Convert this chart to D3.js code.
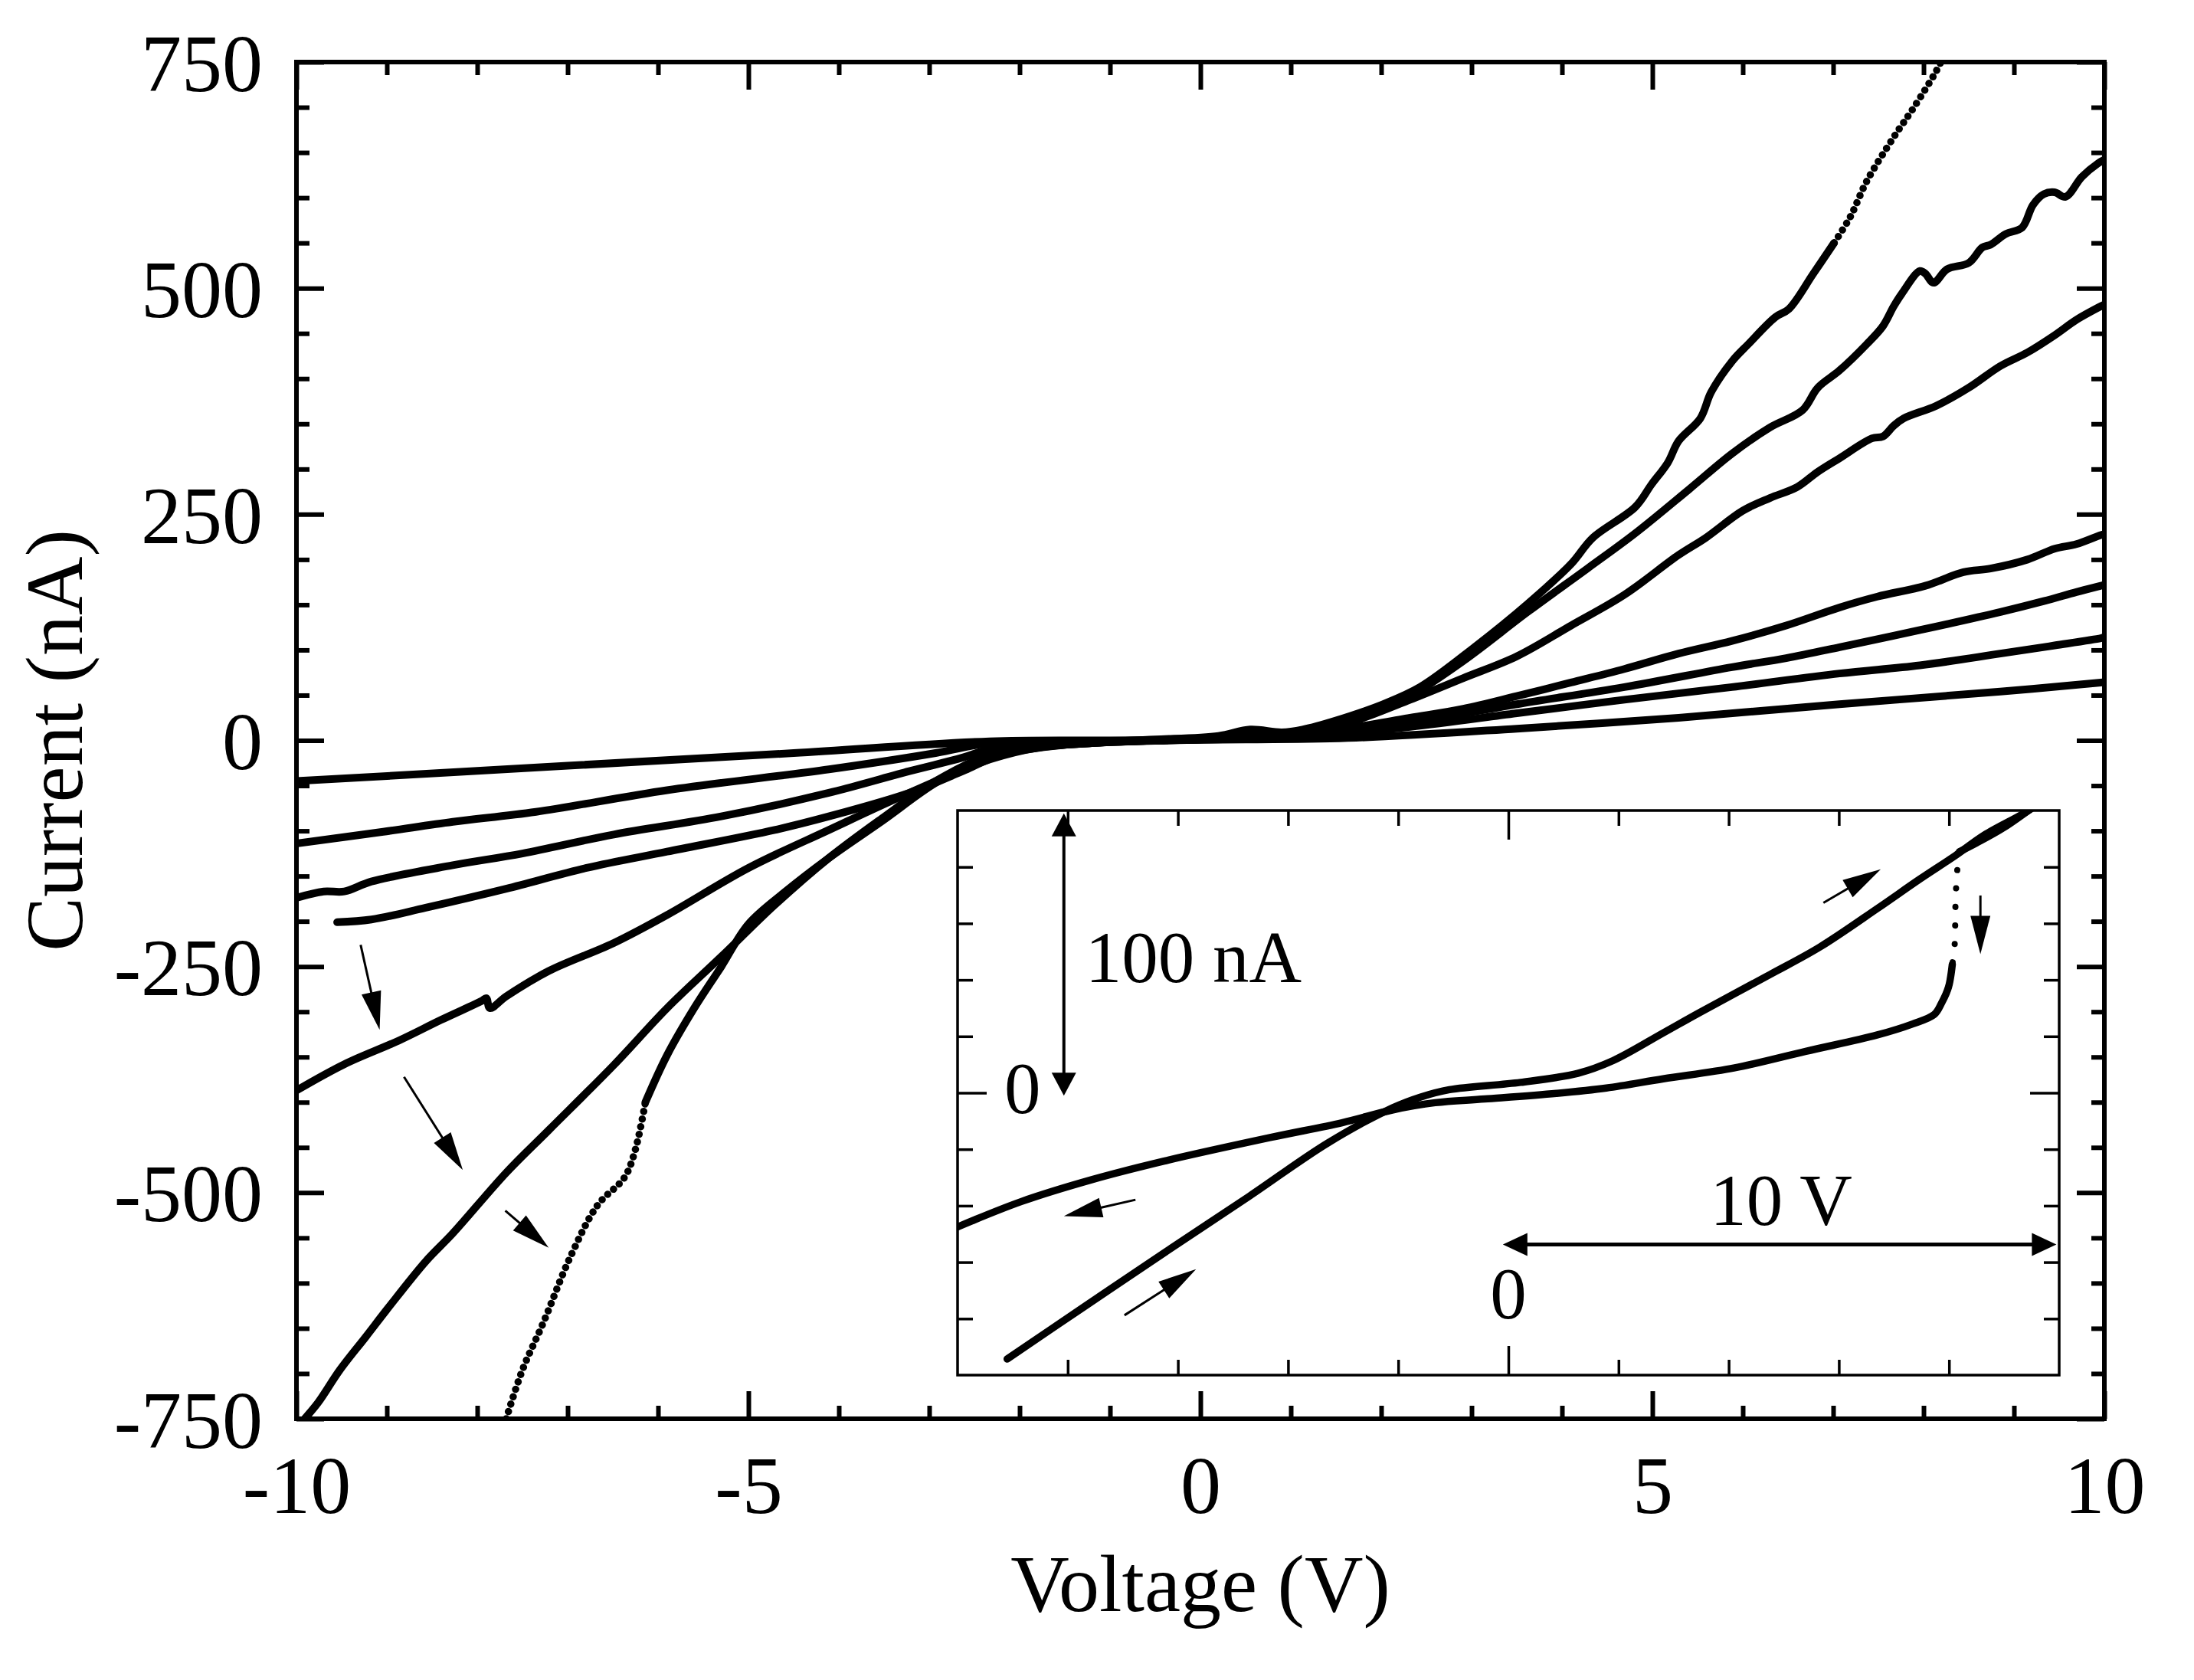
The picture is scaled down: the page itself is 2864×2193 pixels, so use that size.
<!DOCTYPE html>
<html>
<head>
<meta charset="utf-8">
<script src="https://cdn.jsdelivr.net/npm/d3@7"></script>
<style>
  html, body { margin: 0; padding: 0; background: #fff; }
  svg text { font-family: "Liberation Serif", "Times New Roman", serif; fill: #000; }
</style>
</head>
<body>
<div id="chart"></div>
<script>
// ---- data (V, nA) ----
const sweepA = [[-6.14,-400],[-5.90,-348],[-5.60,-296],[-5.30,-250],[-5.00,-203],[-4.59,-167],[-4.11,-130],
  [-3.52,-89],[-2.93,-47],[-2.33,-16],[-1.8,-6],[-1.2,-2],[-0.5,1],[0.2,5],[0.55,12],[0.9,9],[1.13,12],
  [1.5,22],[2.02,40],[2.43,59],[3.03,103],[3.62,151],[4.10,195],[4.34,224],[4.81,258],[4.99,283],[5.17,307],
  [5.29,331],[5.53,356],[5.65,385],[5.88,419],[6.06,438],[6.36,468],[6.51,477],[6.78,516],[7.01,550]];
const sweepALowSparse = [[-7.68,-750],[-7.50,-696],[-7.27,-644],[-6.97,-571],[-6.67,-514],[-6.37,-483],[-6.25,-452],[-6.14,-400]];
const sweepAHighSparse = [[7.01,550],[7.19,579],[7.37,618],[7.67,667],[7.90,701],[8.14,740],[8.2,752]];
const sweepB = [[-9.91,-750],[-9.76,-732],[-9.52,-696],[-9.23,-659],[-8.99,-628],[-8.57,-576],[-8.27,-545],
  [-7.68,-478],[-7.21,-431],[-6.49,-359],[-5.90,-296],[-5.30,-239],[-4.71,-182],[-4.11,-130],[-3.52,-86],
  [-2.93,-45],[-2.33,-16],[-1.8,-7],[-1.2,-3],[-0.5,0],[0.2,4],[0.55,11],[0.9,8],[1.13,11],[1.5,20],[2.02,35],
  [2.32,49],[2.91,88],[3.62,142],[4.28,190],[4.81,229],[5.41,278],[5.88,317],[6.30,346],[6.66,365],[6.83,390],
  [7.07,409],[7.37,438],[7.55,458],[7.67,480],[7.76,494],[7.96,519],[8.02,516],[8.11,506],[8.26,521],[8.50,528],
  [8.65,545],[8.74,548],[8.91,560],[9.09,567],[9.21,592],[9.33,604],[9.45,606],[9.57,601],[9.75,623],[9.93,638],[10,642]];
const sweepC = [[-10,-387],[-9.47,-358],[-8.87,-332],[-8.40,-309],[-7.95,-288],[-7.90,-285],[-7.86,-296],
  [-7.68,-283],[-7.21,-255],[-6.49,-224],[-5.90,-193],[-5.00,-141],[-4.11,-99],[-3.22,-58],[-2.33,-21],
  [-1.8,-8],[-1.2,-3],[-0.5,0],[0.2,3],[0.6,8],[1.0,7],[1.4,14],[1.72,22],[2.32,45],[2.91,69],[3.50,93],
  [4.10,127],[4.69,161],[5.29,205],[5.59,224],[6.00,254],[6.30,268],[6.60,280],[6.83,297],[7.07,312],
  [7.43,334],[7.55,336],[7.67,348],[7.78,356],[8.14,370],[8.50,390],[8.85,414],[9.15,429],[9.45,448],
  [9.69,465],[9.96,480],[10,482]];
const sweepD = [[-9.55,-201],[-9.17,-198],[-8.57,-185],[-7.68,-164],[-6.79,-141],[-5.90,-123],[-4.71,-99],
  [-4.11,-84],[-3.22,-58],[-2.63,-34],[-2.21,-16],[-1.6,-6],[-1,-2],[0,1],[0.6,5],[1.2,7],[2.32,25],[2.91,35],
  [3.50,49],[4.10,64],[4.69,79],[5.29,96],[5.88,110],[6.48,127],[7.07,147],[7.49,159],[8.02,171],[8.44,186],
  [8.74,190],[9.15,200],[9.45,212],[9.69,217],[9.96,227],[10,228]];
const sweepE = [[-10,-174],[-9.70,-167],[-9.47,-167],[-9.17,-156],[-8.27,-138],[-7.50,-125],[-6.49,-104],
  [-5.30,-84],[-4.11,-58],[-3.22,-34],[-2.63,-19],[-2.21,-6],[-1.5,-2],[-0.5,0],[0.5,3],[1.2,6],[2.32,20],
  [3.50,40],[4.69,59],[5.88,81],[6.48,91],[7.07,103],[7.96,122],[8.85,142],[9.33,154],[9.69,164],[9.96,171],[10,172]];
const sweepF = [[-10,-114],[-9.04,-101],[-8.27,-90],[-7.35,-79],[-5.90,-55],[-4.11,-32],[-2.93,-14],[-2.33,-3],
  [-1.5,-1],[-0.5,0],[0.5,2],[1.2,5],[2.32,15],[3.50,30],[4.69,45],[5.88,59],[7.07,74],[7.96,83],[8.85,96],
  [9.45,105],[9.96,113],[10,114]];
const sweepG = [[-10,-45],[-7,-28],[-4.5,-14],[-2.33,-1],[-1,0],[0.5,1],[1.72,3],[3.50,13],[5.29,25],
  [7.07,40],[8.85,54],[9.96,64],[10,64.5]];

// inset loop (V, nA)
const insetUp = [[-9.10,-94.3],[-7.68,-75.5],[-6.25,-56.7],[-4.70,-36.6],[-3.28,-17.8],[-2.11,-5.4],
  [-1.59,-1.5],[-1.07,1.1],[0.22,3.7],[1.26,6.9],[1.90,11.4],[2.81,21.2],[3.46,28.3],[4.75,41.9],[5.66,51.7],
  [6.70,65.3],[7.47,75.7],[8.12,84.1],[8.64,91.3],[9.42,99.7],[9.65,103]];
const insetDownTop = [[9.65,103],[9.0,94],[8.5,88.5],[8.19,85.4]];
const insetDrop = [[8.19,85.4],[8.15,78.9],[8.12,68.6],[8.10,51.7],[8.06,45.5]];
const insetDown = [[8.06,45.5],[7.99,37.4],[7.86,31.6],[7.73,27.7],[7.34,24.4],[6.70,20.5],[5.40,14.7],
  [4.11,8.85],[2.81,4.95],[1.78,1.7],[0.87,-0.2],[-0.43,-2.2],[-1.33,-3.5],[-2.11,-6.1],[-3.02,-10.6],
  [-4.31,-15.8],[-6.25,-24.2],[-7.55,-30.7],[-8.84,-38.5],[-10.01,-47.6]];

// sweep direction arrows [from, to]
const mainArrows = [[[-9.29,-226],[-9.08,-320]],[[-8.81,-372],[-8.16,-475]],[[-7.69,-520],[-7.21,-561]]];
const insetArrows = [[[5.72,67.3],[6.76,79.2]],[[8.57,69.9],[8.57,49.1]],[[-6.77,-37.9],[-8.07,-43.7]],[[-6.97,-78.8],[-5.67,-62.5]]];
const currentBar = [[-8.07,-1],[-8.07,99]];
const voltageBar = [[-0.1,-53.7],[9.95,-53.7]];

const xMajorTicks = [-10, -5, 0, 5, 10];
const yMajorTicks = [-750, -500, -250, 0, 250, 500, 750];
const insetXTicks = [-8, -6, -4, -2, 2, 4, 6, 8];
const insetYTicks = [-80, -60, -40, -20, 20, 40, 60, 80];

// ---- layout ----
const W = 2864, H = 2193;
const margin = { top: 81, right: 117, bottom: 341, left: 387 };
const w = W - margin.left - margin.right;
const h = H - margin.top - margin.bottom;
const FS = 106;

const svg = d3.select("#chart").append("svg")
  .attr("width", W).attr("height", H).attr("viewBox", `0 0 ${W} ${H}`);
svg.append("rect").attr("width", W).attr("height", H).attr("fill", "#fff");
const defs = svg.append("defs");
const g = svg.append("g").attr("transform", `translate(${margin.left},${margin.top})`);

const x = d3.scaleLinear().domain([-10, 10]).range([0, w]);
const y = d3.scaleLinear().domain([-750, 750]).range([h, 0]);

defs.append("clipPath").attr("id", "clipMain")
  .append("rect").attr("width", w).attr("height", h);

// curves
const line = d3.line().x(d => x(d[0])).y(d => y(d[1])).curve(d3.curveCatmullRom.alpha(0.5));
const curves = g.append("g").attr("clip-path", "url(#clipMain)");
[sweepA, sweepB, sweepC, sweepD, sweepE, sweepF, sweepG].forEach(s => {
  curves.append("path").attr("d", line(s))
    .attr("fill", "none").attr("stroke", "#000").attr("stroke-width", 10)
    .attr("stroke-linejoin", "round").attr("stroke-linecap", "round");
});
[sweepALowSparse, sweepAHighSparse].forEach(s => {
  curves.append("path").attr("d", line(s))
    .attr("fill", "none").attr("stroke", "#000").attr("stroke-width", 9.5)
    .attr("stroke-linecap", "round").attr("stroke-dasharray", "0.1 10");
});

function drawArrow(sel, p0, p1, len, half, sw, both) {
  const dx = p1[0] - p0[0], dy = p1[1] - p0[1], L = Math.hypot(dx, dy);
  const ux = dx / L, uy = dy / L;
  const head = (tip, sx, sy) => {
    const bx = tip[0] - sx * len, by = tip[1] - sy * len;
    sel.append("path")
      .attr("d", `M${tip[0]},${tip[1]}L${bx - sy * half},${by + sx * half}L${bx + sy * half},${by - sx * half}Z`)
      .attr("fill", "#000");
  };
  const a = both ? [p0[0] + ux * (len - 2), p0[1] + uy * (len - 2)] : p0;
  sel.append("line")
    .attr("x1", a[0]).attr("y1", a[1])
    .attr("x2", p1[0] - ux * (len - 2)).attr("y2", p1[1] - uy * (len - 2))
    .attr("stroke", "#000").attr("stroke-width", sw);
  head(p1, ux, uy);
  if (both) head(p0, -ux, -uy);
}

mainArrows.forEach(([a, b]) => {
  drawArrow(g, [x(a[0]), y(a[1])], [x(b[0]), y(b[1])], 50, 13, 3, false);
});

// main axes
function styleAxis(sel, sw) {
  sel.select(".domain").remove();
  sel.selectAll(".tick line").attr("stroke", "#000").attr("stroke-width", sw);
  sel.selectAll(".tick text").attr("font-size", FS).attr("fill", "#000")
    .attr("font-family", "'Liberation Serif','Times New Roman',serif");
}
const xMinor = d3.range(-10, 10.5, 1).filter(v => !xMajorTicks.includes(v));
const yMinor = d3.range(-750, 751, 50).filter(v => !yMajorTicks.includes(v));
const fmt = d => String(d);

g.append("g").attr("transform", `translate(0,${h})`)
  .call(d3.axisBottom(x).tickValues(xMajorTicks).tickSize(-36).tickPadding(48).tickFormat(fmt))
  .call(s => styleAxis(s, 6));
g.append("g").attr("transform", `translate(0,${h})`)
  .call(d3.axisBottom(x).tickValues(xMinor).tickSize(-17).tickFormat(""))
  .call(s => styleAxis(s, 6));
g.append("g")
  .call(d3.axisTop(x).tickValues(xMajorTicks).tickSize(-36).tickFormat(""))
  .call(s => styleAxis(s, 6));
g.append("g")
  .call(d3.axisTop(x).tickValues(xMinor).tickSize(-17).tickFormat(""))
  .call(s => styleAxis(s, 6));
g.append("g")
  .call(d3.axisLeft(y).tickValues(yMajorTicks).tickSize(-36).tickPadding(44).tickFormat(fmt))
  .call(s => styleAxis(s, 6))
  .call(s => s.selectAll(".tick text").attr("dy", "0.35em"));
g.append("g")
  .call(d3.axisLeft(y).tickValues(yMinor).tickSize(-17).tickFormat(""))
  .call(s => styleAxis(s, 6));
g.append("g").attr("transform", `translate(${w},0)`)
  .call(d3.axisRight(y).tickValues(yMajorTicks).tickSize(-36).tickFormat(""))
  .call(s => styleAxis(s, 6));
g.append("g").attr("transform", `translate(${w},0)`)
  .call(d3.axisRight(y).tickValues(yMinor).tickSize(-17).tickFormat(""))
  .call(s => styleAxis(s, 6));

g.append("rect").attr("width", w).attr("height", h)
  .attr("fill", "none").attr("stroke", "#000").attr("stroke-width", 6);

g.append("text").attr("x", w / 2).attr("y", h + 251)
  .attr("text-anchor", "middle").attr("font-size", FS).text("Voltage (V)");
g.append("text").attr("transform", `translate(-280,${h / 2}) rotate(-90)`)
  .attr("text-anchor", "middle").attr("font-size", FS).text("Current (nA)");

// ---- inset ----
const inset = { left: 863, top: 977, width: 1438, height: 737 };
const ig = g.append("g").attr("transform", `translate(${inset.left},${inset.top})`);
const ix = d3.scaleLinear().domain([-10, 10]).range([0, inset.width]);
const iy = d3.scaleLinear().domain([-100, 100]).range([inset.height, 0]);

ig.append("rect").attr("width", inset.width).attr("height", inset.height).attr("fill", "#fff");
defs.append("clipPath").attr("id", "clipInset")
  .append("rect").attr("width", inset.width).attr("height", inset.height);

const iline = d3.line().x(d => ix(d[0])).y(d => iy(d[1])).curve(d3.curveCatmullRom.alpha(0.5));
const icurves = ig.append("g").attr("clip-path", "url(#clipInset)");
[insetUp, insetDownTop, insetDown].forEach(s => {
  icurves.append("path").attr("d", iline(s))
    .attr("fill", "none").attr("stroke", "#000").attr("stroke-width", 9.5)
    .attr("stroke-linejoin", "round").attr("stroke-linecap", "round");
});
icurves.append("path").attr("d", iline(insetDrop))
  .attr("fill", "none").attr("stroke", "#000").attr("stroke-width", 8)
  .attr("stroke-linecap", "round").attr("stroke-dasharray", "0.1 24");

const ISW = 3.5;
ig.append("g").attr("transform", `translate(0,${inset.height})`)
  .call(d3.axisBottom(ix).tickValues(insetXTicks).tickSize(-20).tickFormat(""))
  .call(s => styleAxis(s, ISW));
ig.append("g").attr("transform", `translate(0,${inset.height})`)
  .call(d3.axisBottom(ix).tickValues([0]).tickSize(-38).tickFormat(""))
  .call(s => styleAxis(s, ISW));
ig.append("g")
  .call(d3.axisTop(ix).tickValues(insetXTicks).tickSize(-20).tickFormat(""))
  .call(s => styleAxis(s, ISW));
ig.append("g")
  .call(d3.axisTop(ix).tickValues([0]).tickSize(-38).tickFormat(""))
  .call(s => styleAxis(s, ISW));
ig.append("g")
  .call(d3.axisLeft(iy).tickValues(insetYTicks).tickSize(-20).tickFormat(""))
  .call(s => styleAxis(s, ISW));
ig.append("g")
  .call(d3.axisLeft(iy).tickValues([0]).tickSize(-38).tickFormat(""))
  .call(s => styleAxis(s, ISW));
ig.append("g").attr("transform", `translate(${inset.width},0)`)
  .call(d3.axisRight(iy).tickValues(insetYTicks).tickSize(-20).tickFormat(""))
  .call(s => styleAxis(s, ISW));
ig.append("g").attr("transform", `translate(${inset.width},0)`)
  .call(d3.axisRight(iy).tickValues([0]).tickSize(-38).tickFormat(""))
  .call(s => styleAxis(s, ISW));
ig.append("rect").attr("width", inset.width).attr("height", inset.height)
  .attr("fill", "none").attr("stroke", "#000").attr("stroke-width", ISW);

insetArrows.forEach(([a, b]) => {
  drawArrow(ig, [ix(a[0]), iy(a[1])], [ix(b[0]), iy(b[1])], 50, 13, 3, false);
});
drawArrow(ig, [ix(currentBar[0][0]), iy(currentBar[0][1])], [ix(currentBar[1][0]), iy(currentBar[1][1])], 30, 16, 4, true);
drawArrow(ig, [ix(voltageBar[0][0]), iy(voltageBar[0][1])], [ix(voltageBar[1][0]), iy(voltageBar[1][1])], 32, 15, 5, true);

const IFS = 95;
ig.append("text").attr("x", ix(-7.68)).attr("y", iy(39.1)).attr("font-size", IFS).text("100 nA");
ig.append("text").attr("x", ix(-8.82)).attr("y", iy(-7.3)).attr("text-anchor", "middle").attr("font-size", IFS).text("0");
ig.append("text").attr("x", ix(3.66)).attr("y", iy(-46.9)).attr("font-size", IFS).text("10 V");
ig.append("text").attr("x", ix(0)).attr("y", iy(-80)).attr("text-anchor", "middle").attr("font-size", IFS).text("0");
</script>
</body>
</html>
